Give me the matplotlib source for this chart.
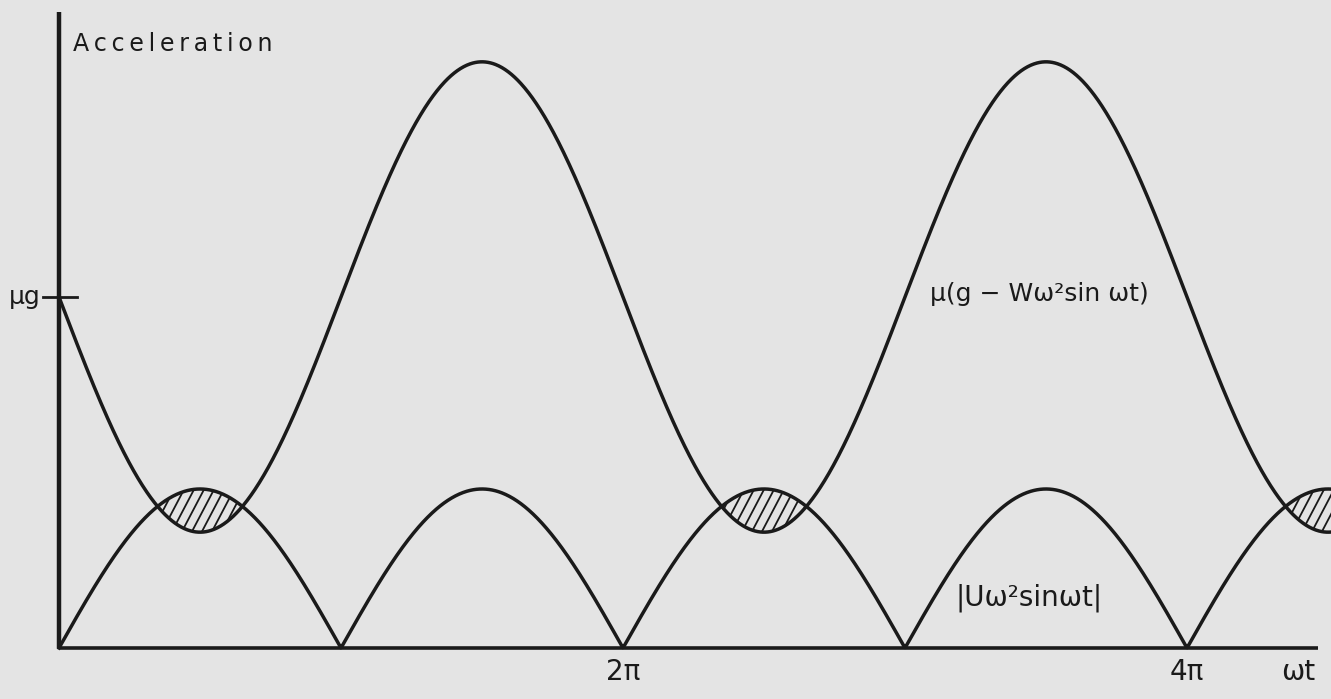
import numpy as np
import matplotlib.pyplot as plt
from matplotlib.collections import LineCollection
from matplotlib.path import Path

# curve parameters, in units of mu*g
mu_g = 1.0
mu_W_w2 = 0.670      # mu * W * omega^2
U_w2 = 0.453         # U * omega^2

x_ticks = [2 * np.pi, 4 * np.pi]
x_tick_labels = ["2π", "4π"]

# figure geometry: origin sits 59 px from the left, 51 px from the bottom,
# one pi spans 282 px, mu*g spans 351 px
W_PX, H_PX = 1331, 699
X0, Y0 = 59, 51
PX_PER_PI, PX_PER_G = 282.0, 351.0

bg = "#e4e4e4"
ink = "#1a1a1a"
plt.rcParams['font.family'] = ['DejaVu Sans']


def px_x(p):
    return (p - X0) / PX_PER_PI * np.pi


def px_y(p):
    # pixel row measured from the top of the figure
    return (H_PX - Y0 - p) / PX_PER_G


fig = plt.figure(figsize=(W_PX / 100, H_PX / 100), dpi=100, facecolor=bg)
ax = fig.add_axes([0, 0, 1, 1])
ax.set_facecolor(bg)
ax.set_axis_off()
ax.set_xlim(px_x(0), px_x(W_PX))
ax.set_ylim(px_y(H_PX), px_y(0))

wt = np.linspace(0, px_x(W_PX), 2000)
friction = mu_g - mu_W_w2 * np.sin(wt)
drive = U_w2 * np.abs(np.sin(wt))

# axes
ax.plot([0, 0], [0, px_y(12)], color=ink, lw=3.2, solid_capstyle='butt')
ax.plot([0, px_x(1318)], [0, 0], color=ink, lw=2.6, solid_capstyle='butt')

# mu*g tick on the vertical axis
ax.plot([px_x(43), px_x(77)], [mu_g, mu_g], color=ink, lw=2.0)
ax.text(px_x(41), mu_g, "μg", ha='right', va='center', fontsize=18, color=ink)

# region where the drive exceeds the friction limit, shaded with steep
# hand-style hatch lines clipped to it
region = ax.fill_between(wt, friction, drive, where=drive > friction,
                         facecolor='none', lw=0, interpolate=True)
clip = Path.make_compound_path(*region.get_paths())
step, rise, run = 10, 200, 105
segs = [[(px_x(x), px_y(640)), (px_x(x + run), px_y(640 - rise))]
        for x in range(-run, W_PX + run, step)]
hatch = LineCollection(segs, colors=ink, linewidths=1.3)
ax.add_collection(hatch)
hatch.set_clip_path(clip, ax.transData)

ax.plot(wt, friction, color=ink, lw=2.5)
ax.plot(wt, drive, color=ink, lw=2.5)

# labels
ax.text(px_x(73), px_y(44), "\u2009".join("Acceleration"),
        ha='left', va='center', fontsize=17, color=ink)
for xv, lab in zip(x_ticks, x_tick_labels):
    ax.text(xv, px_y(672), lab, ha='center', va='center',
            fontsize=20, color=ink)
ax.text(px_x(1298), px_y(672), "ωt", ha='center', va='center',
        fontsize=20, color=ink)
ax.text(px_x(930), px_y(294), "μ(g − Wω²sin ωt)", ha='left', va='center',
        fontsize=18, color=ink)
ax.text(px_x(955), px_y(598), "|Uω²sinωt|", ha='left', va='center',
        fontsize=20, color=ink)

fig.savefig("out.png", dpi=100, facecolor=bg)
